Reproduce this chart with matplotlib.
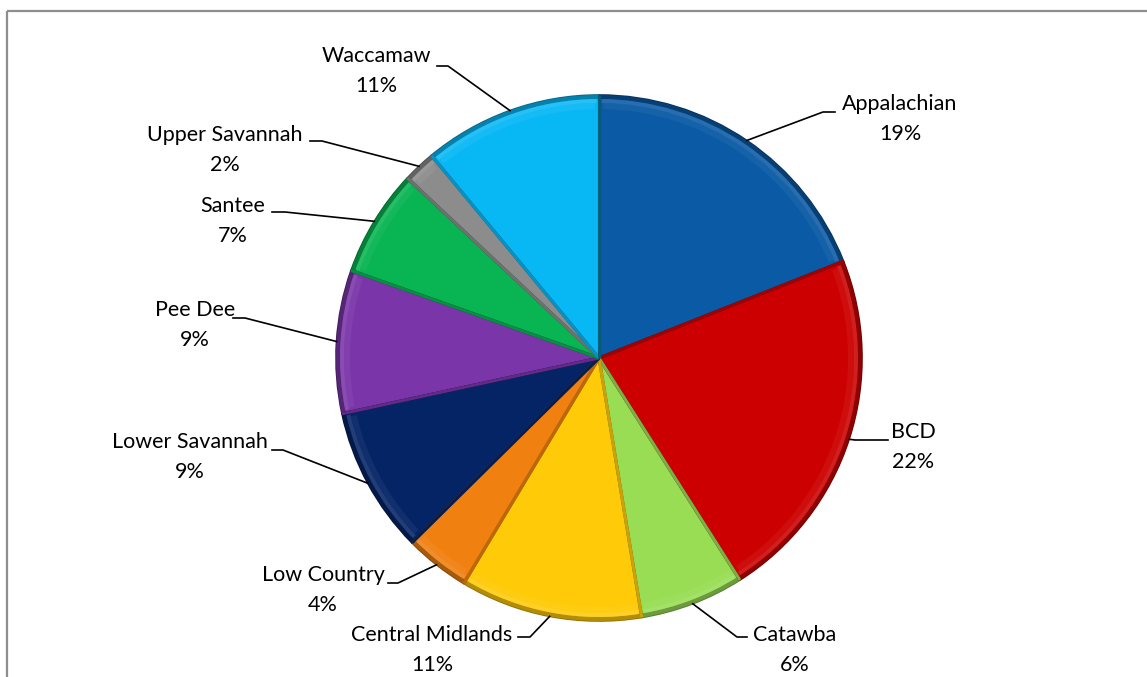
import matplotlib
matplotlib.use("Agg")
import matplotlib.pyplot as plt
from matplotlib.patches import Wedge, Rectangle
from matplotlib.colors import to_rgb
import numpy as np

# data
regions = ["Appalachian", "BCD", "Catawba", "Central Midlands", "Low Country",
           "Lower Savannah", "Pee Dee", "Santee", "Upper Savannah", "Waccamaw"]
shares = [19.0, 22.0, 6.4, 11.2, 4.0, 9.0, 8.8, 6.6, 2.0, 11.0]
colors = ["#0A5AA5", "#CC0000", "#99DD55", "#FFCA08", "#F08010",
          "#052466", "#7A35A8", "#08B552", "#8C8C8C", "#08B8F5"]

# label layout (pixels): text block centre, elbow, stub end
label_pos = [(900, 119), (913, 447), (795, 650), (432, 650), (323, 590),
             (190, 457), (195, 325), (233, 221), (225, 150), (376, 71)]
elbows = [(823, 112), (855, 440), (737, 637), (530, 637), (398, 583),
          (283, 450), (245, 318), (285, 212), (322, 141), (448, 66)]
stubs = [(835, 112), (888, 440), (747, 637), (518, 637), (388, 583),
         (272, 450), (233, 318), (272, 212), (310, 141), (437, 66)]

W, H = 1147, 677
cx, cy, R = 599, 358, 263


def shade(c, f):
    r, g, b = to_rgb(c)
    return (r * f, g * f, b * f)


def tint(c, f):
    r, g, b = to_rgb(c)
    return (r + (1 - r) * f, g + (1 - g) * f, b + (1 - b) * f)


def main():
    fig = plt.figure(figsize=(W / 100, H / 100), dpi=100)
    ax = fig.add_axes([0, 0, 1, 1])

    ax.add_patch(Rectangle((7, 11), W + 50, H + 50, fill=False,
                           edgecolor="#8E8E8E", linewidth=1.6))

    wedges, _ = ax.pie(shares, colors=colors, startangle=-90, counterclock=True,
                       center=(cx, cy), radius=R, frame=True,
                       wedgeprops=dict(linewidth=1.2))
    ax.set_xlim(0, W)
    ax.set_ylim(H, 0)
    ax.set_aspect("equal")
    ax.axis("off")

    total = sum(shares)
    for i, w in enumerate(wedges):
        col = colors[i]
        w.set_edgecolor(shade(col, 0.55))
        t1, t2 = w.theta1, w.theta2
        # bevel: dark rim, soft light band inside
        ax.add_patch(Wedge((cx, cy), R, t1, t2, width=4, facecolor=shade(col, 0.7),
                           edgecolor="none"))
        ax.add_patch(Wedge((cx, cy), R - 4, t1 + 0.6, t2 - 0.6, width=4,
                           facecolor=tint(col, 0.2), edgecolor="none", alpha=0.6))
        ax.add_patch(Wedge((cx, cy), R - 8, t1 + 1.0, t2 - 1.0, width=6,
                           facecolor=tint(col, 0.1), edgecolor="none", alpha=0.5))
        # radial bevel edges
        for t, f in ((t1, 0.8), (t2, 0.5)):
            a = np.deg2rad(t)
            ax.plot([cx, cx + R * np.cos(a)], [cy, cy + R * np.sin(a)],
                    color=shade(col, f), lw=2.2, solid_capstyle="butt")

        mid = np.deg2rad((t1 + t2) / 2)
        px, py = cx + R * np.cos(mid), cy + R * np.sin(mid)
        ex, ey = elbows[i]
        sx, sy = stubs[i]
        ax.plot([px, ex, sx], [py, ey, sy], color="black", lw=1.2)

        pct = round(shares[i] / total * 100)
        tx, ty = label_pos[i]
        ax.text(tx, ty, "%s\n%d%%" % (regions[i], pct), ha="center", va="center",
                fontsize=15.5, family="Lato", linespacing=1.6, color="black")

    fig.savefig("out.png", dpi=100)


if __name__ == '__main__':
    main()
